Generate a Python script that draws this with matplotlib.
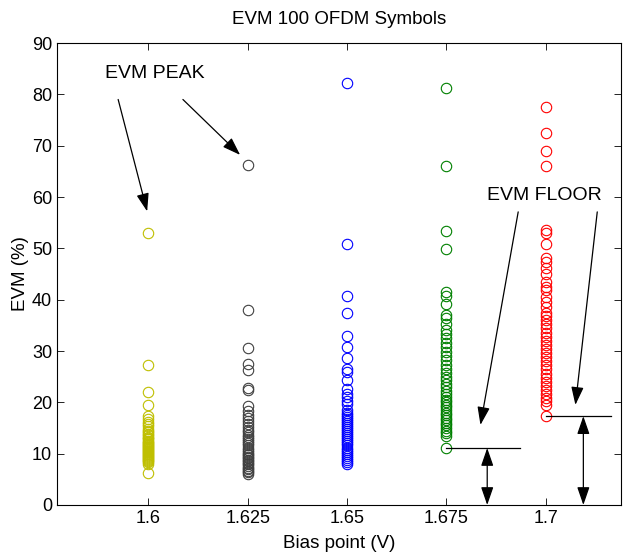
import matplotlib
matplotlib.use('Agg')
import matplotlib.pyplot as plt

plt.rcParams['font.family'] = ['Liberation Sans', 'DejaVu Sans']

# bias points and colours (MATLAB-like)
bias = [1.6, 1.625, 1.65, 1.675, 1.7]
colors = [(0.75, 0.75, 0), (0.25, 0.25, 0.25), (0, 0, 1), (0, 0.5, 0), (1, 0, 0)]

# EVM (%) per bias point
evm_1600 = [53.0, 27.3, 22.0, 19.5, 17.3, 16.8, 16.2, 15.8, 15.3, 14.9, 14.5, 14.2,
            13.9, 13.6, 13.3, 13.0, 12.8, 12.5, 12.3, 12.1, 11.9, 11.7, 11.5, 11.3,
            11.1, 10.9, 10.7, 10.5, 10.3, 10.1, 9.9, 9.7, 9.5, 9.3, 9.1, 8.9, 8.7,
            8.5, 8.3, 8.0, 6.2]
evm_1625 = [66.3, 38.0, 30.5, 27.5, 26.3, 22.7, 22.4, 19.2, 18.3, 17.6, 17.0, 16.4,
            15.8, 15.2, 14.7, 14.2, 13.7, 13.2, 12.8, 12.4, 12.0, 11.6, 11.2, 10.8,
            10.4, 10.0, 9.7, 9.4, 9.1, 8.8, 8.5, 8.2, 7.9, 7.6, 7.3, 7.0, 6.7, 6.4, 6.1]
evm_1650 = [82.3, 50.8, 40.8, 37.5, 33.0, 30.8, 28.7, 26.5, 25.9, 24.4, 22.5, 21.7,
            21.0, 20.2, 19.6, 18.6, 18.0, 17.6, 17.2, 16.8, 16.4, 16.0, 15.6, 15.2,
            14.8, 14.4, 14.0, 13.6, 13.2, 12.8, 12.4, 12.0, 11.6, 11.2, 10.8, 10.4,
            10.0, 9.6, 9.2, 8.8, 8.4, 8.0]
evm_1675 = [81.3, 66.1, 53.3, 49.8, 41.5, 40.7, 39.2, 37.1, 36.5, 35.3, 34.0, 33.3,
            32.5, 31.5, 30.7, 29.8, 29.0, 28.2, 27.3, 26.5, 25.8, 25.0, 24.3, 23.6,
            23.0, 22.3, 21.7, 21.1, 20.5, 20.0, 19.5, 19.0, 18.5, 18.0, 17.5, 17.0,
            16.5, 16.0, 15.5, 15.0, 14.5, 14.0, 13.5, 11.1]
evm_1700 = [77.6, 72.4, 69.0, 66.0, 53.5, 53.0, 50.8, 48.2, 47.3, 46.2, 45.0, 43.5,
            42.5, 41.8, 40.6, 39.6, 38.5, 37.5, 36.8, 36.0, 35.2, 34.4, 33.6, 32.8,
            32.0, 31.2, 30.4, 29.6, 28.8, 28.0, 27.2, 26.4, 25.6, 24.8, 24.0, 23.2,
            22.4, 21.6, 20.8, 20.2, 19.5, 17.3]
evm_all = [evm_1600, evm_1625, evm_1650, evm_1675, evm_1700]

fig = plt.figure(figsize=(6.31, 5.55), dpi=100)
ax = fig.add_axes([0.0903, 0.0901, 0.894, 0.8324])

for x, vals, c in zip(bias, evm_all, colors):
    ax.plot([x] * len(vals), vals, 'o', mfc='none', mec=c, ms=7.5, mew=0.8)

ax.set_xlim(1.577, 1.719)
ax.set_ylim(0, 90)
ax.set_xticks(bias)
ax.set_xticklabels(['1.6', '1.625', '1.65', '1.675', '1.7'])
ax.set_yticks(range(0, 91, 10))
ax.tick_params(direction='in', length=5, top=True, right=True, labelsize=13, width=0.6)
for s in ax.spines.values():
    s.set_linewidth(0.8)
ax.set_title('EVM 100 OFDM Symbols', fontsize=13.5, pad=14)
ax.set_xlabel('Bias point (V)', fontsize=13.5)
ax.set_ylabel('EVM (%)', fontsize=13.5)
ax.xaxis.set_label_coords(0.5, -0.065)
ax.yaxis.set_label_coords(-0.05, 0.5)

# annotations
arr = dict(arrowstyle='-|>,head_length=1.1,head_width=0.38', color='k', lw=0.9,
           shrinkA=0, shrinkB=0)
dbl = dict(arrowstyle='<|-|>,head_length=1.1,head_width=0.38', color='k', lw=0.9,
           shrinkA=0, shrinkB=0)
ax.text(1.589, 84.0, 'EVM PEAK', fontsize=14, va='center')
ax.annotate('', xy=(1.5997, 57.2), xytext=(1.5924, 79.0), arrowprops=arr)
ax.annotate('', xy=(1.6231, 68.2), xytext=(1.6087, 79.0), arrowprops=arr)

ax.text(1.6853, 60.3, 'EVM FLOOR', fontsize=14, va='center')
ax.annotate('', xy=(1.6836, 15.6), xytext=(1.6931, 57.1), arrowprops=arr)
ax.annotate('', xy=(1.7075, 19.5), xytext=(1.713, 57.1), arrowprops=arr)

ax.plot([1.675, 1.6936], [11.1, 11.1], color='k', lw=0.9)
ax.plot([1.7, 1.7165], [17.3, 17.3], color='k', lw=0.9)
ax.annotate('', xy=(1.6853, 0), xytext=(1.6853, 11.1), arrowprops=dbl)
ax.annotate('', xy=(1.7095, 0), xytext=(1.7095, 17.3), arrowprops=dbl)

fig.savefig('out.png', dpi=100)
